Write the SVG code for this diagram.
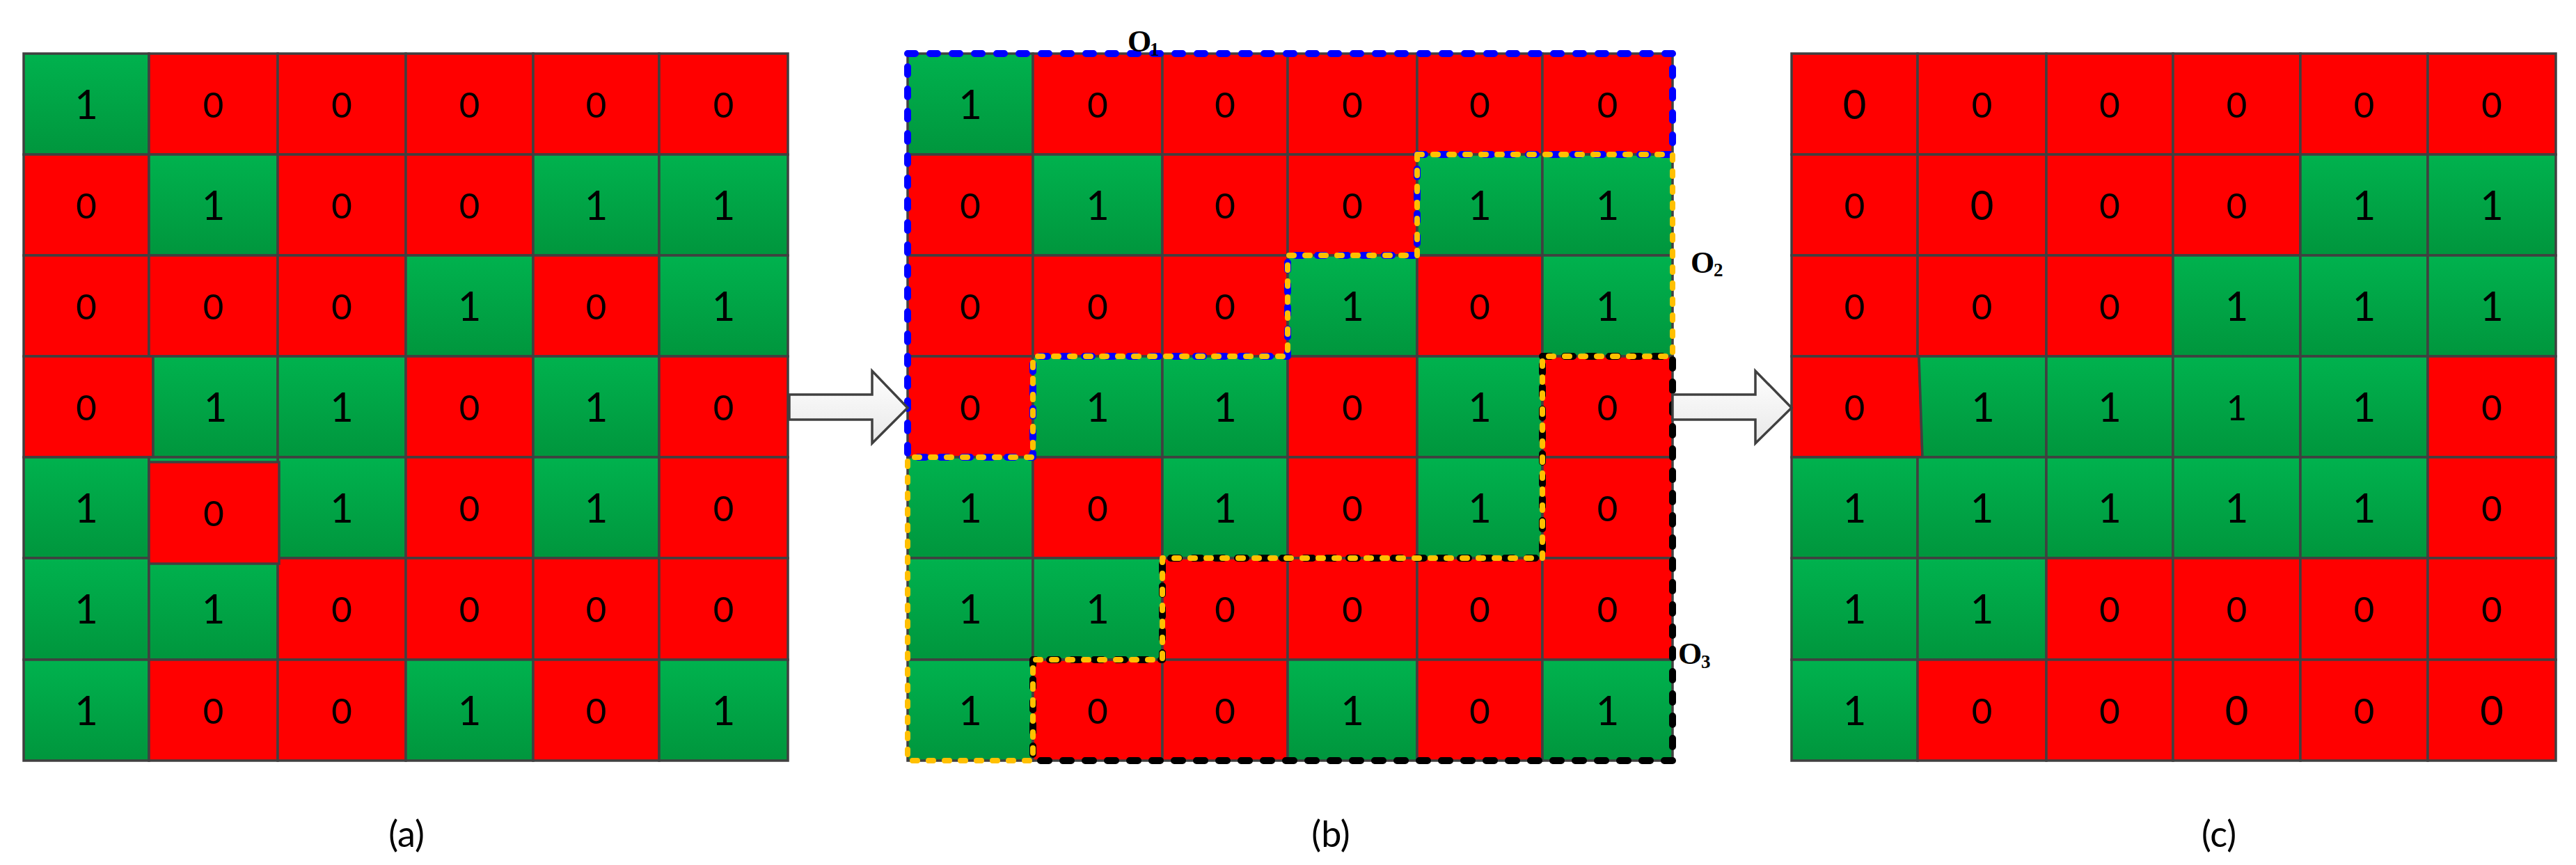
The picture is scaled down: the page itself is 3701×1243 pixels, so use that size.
<svg xmlns="http://www.w3.org/2000/svg" width="3701" height="1243" viewBox="0 0 3701 1243">
<defs>
<linearGradient id="gg" x1="0" y1="0" x2="0" y2="1"><stop offset="0" stop-color="#00B24E"/><stop offset="1" stop-color="#00963D"/></linearGradient>
<linearGradient id="ag" x1="0" y1="0" x2="0" y2="1"><stop offset="0" stop-color="#FFFFFF"/><stop offset="1" stop-color="#E8E8E8"/></linearGradient>
</defs>
<style>
.g{fill:url(#gg);stroke:#404040;stroke-width:3.5}
.r{fill:#FF0000;stroke:#404040;stroke-width:3.5}
text{font-family:Lato,"Open Sans","DejaVu Sans",sans-serif;fill:#000;text-anchor:middle}
.o{font-size:58px}.z{font-size:51px}.zb{font-size:58px}.os{font-size:51px}
.cap{font-size:52px}
.ol{font-family:"Liberation Serif","Times New Roman",serif;font-weight:bold;font-size:44px;text-anchor:start}
.ol tspan{font-size:27px}
.arrow{fill:url(#ag);stroke:#404040;stroke-width:3.5;stroke-linejoin:miter}
.d{fill:none;stroke-linecap:round;stroke-linejoin:round}
.o1{stroke:#0000FF;stroke-width:10;stroke-dasharray:11 21}
.o3{stroke:#000000;stroke-width:10;stroke-dasharray:12 20}
.o2{stroke:#FFC000;stroke-width:8;stroke-dasharray:7 16}
</style>
<rect width="3701" height="1243" fill="#FFFFFF"/>

<g id="grid-a">
<g id="a00"><rect class="g" x="34" y="77" width="180" height="145"/><text class="o" x="124" y="170.5">1</text></g>
<g id="a01"><rect class="r" x="214" y="77" width="185" height="145"/><text class="z" x="306.5" y="168.5">0</text></g>
<g id="a02"><rect class="r" x="399" y="77" width="184" height="145"/><text class="z" x="491" y="168.5">0</text></g>
<g id="a03"><rect class="r" x="583" y="77" width="183" height="145"/><text class="z" x="674.5" y="168.5">0</text></g>
<g id="a04"><rect class="r" x="766" y="77" width="181" height="145"/><text class="z" x="856.5" y="168.5">0</text></g>
<g id="a05"><rect class="r" x="947" y="77" width="185" height="145"/><text class="z" x="1039.5" y="168.5">0</text></g>

<g id="a10"><rect class="r" x="34" y="222" width="180" height="145"/><text class="z" x="124" y="313.5">0</text></g>
<g id="a11"><rect class="g" x="214" y="222" width="185" height="145"/><text class="o" x="306.5" y="315.5">1</text></g>
<g id="a12"><rect class="r" x="399" y="222" width="184" height="145"/><text class="z" x="491" y="313.5">0</text></g>
<g id="a13"><rect class="r" x="583" y="222" width="183" height="145"/><text class="z" x="674.5" y="313.5">0</text></g>
<g id="a14"><rect class="g" x="766" y="222" width="181" height="145"/><text class="o" x="856.5" y="315.5">1</text></g>
<g id="a15"><rect class="g" x="947" y="222" width="185" height="145"/><text class="o" x="1039.5" y="315.5">1</text></g>

<g id="a20"><rect class="r" x="34" y="367" width="180" height="145"/><text class="z" x="124" y="458.5">0</text></g>
<g id="a21"><rect class="r" x="214" y="367" width="185" height="145"/><text class="z" x="306.5" y="458.5">0</text></g>
<g id="a22"><rect class="r" x="399" y="367" width="184" height="145"/><text class="z" x="491" y="458.5">0</text></g>
<g id="a23"><rect class="g" x="583" y="367" width="183" height="145"/><text class="o" x="674.5" y="460.5">1</text></g>
<g id="a24"><rect class="r" x="766" y="367" width="181" height="145"/><text class="z" x="856.5" y="458.5">0</text></g>
<g id="a25"><rect class="g" x="947" y="367" width="185" height="145"/><text class="o" x="1039.5" y="460.5">1</text></g>

<g id="a30"><rect class="r" x="34" y="512" width="186" height="145"/><text class="z" x="124" y="603.5">0</text></g>
<g id="a31"><rect class="g" x="220" y="512" width="179" height="145"/><text class="o" x="309.5" y="605.5">1</text></g>
<g id="a32"><rect class="g" x="399" y="512" width="184" height="145"/><text class="o" x="491" y="605.5">1</text></g>
<g id="a33"><rect class="r" x="583" y="512" width="183" height="145"/><text class="z" x="674.5" y="603.5">0</text></g>
<g id="a34"><rect class="g" x="766" y="512" width="181" height="145"/><text class="o" x="856.5" y="605.5">1</text></g>
<g id="a35"><rect class="r" x="947" y="512" width="185" height="145"/><text class="z" x="1039.5" y="603.5">0</text></g>

<g id="a40"><rect class="g" x="34" y="657" width="180" height="145"/><text class="o" x="124" y="750.5">1</text></g>
<g id="a42"><rect class="g" x="399" y="657" width="184" height="145"/><text class="o" x="491" y="750.5">1</text></g>
<g id="a43"><rect class="r" x="583" y="657" width="183" height="145"/><text class="z" x="674.5" y="748.5">0</text></g>
<g id="a44"><rect class="g" x="766" y="657" width="181" height="145"/><text class="o" x="856.5" y="750.5">1</text></g>
<g id="a45"><rect class="r" x="947" y="657" width="185" height="145"/><text class="z" x="1039.5" y="748.5">0</text></g>

<g id="a50"><rect class="g" x="34" y="802" width="180" height="146"/><text class="o" x="124" y="896">1</text></g>
<g id="a51"><rect class="g" x="214" y="802" width="185" height="146"/><text class="o" x="306.5" y="896">1</text></g>
<g id="a52"><rect class="r" x="399" y="802" width="184" height="146"/><text class="z" x="491" y="894">0</text></g>
<g id="a53"><rect class="r" x="583" y="802" width="183" height="146"/><text class="z" x="674.5" y="894">0</text></g>
<g id="a54"><rect class="r" x="766" y="802" width="181" height="146"/><text class="z" x="856.5" y="894">0</text></g>
<g id="a55"><rect class="r" x="947" y="802" width="185" height="146"/><text class="z" x="1039.5" y="894">0</text></g>

<g id="a60"><rect class="g" x="34" y="948" width="180" height="145"/><text class="o" x="124" y="1041.5">1</text></g>
<g id="a61"><rect class="r" x="214" y="948" width="185" height="145"/><text class="z" x="306.5" y="1039.5">0</text></g>
<g id="a62"><rect class="r" x="399" y="948" width="184" height="145"/><text class="z" x="491" y="1039.5">0</text></g>
<g id="a63"><rect class="g" x="583" y="948" width="183" height="145"/><text class="o" x="674.5" y="1041.5">1</text></g>
<g id="a64"><rect class="r" x="766" y="948" width="181" height="145"/><text class="z" x="856.5" y="1039.5">0</text></g>
<g id="a65"><rect class="g" x="947" y="948" width="185" height="145"/><text class="o" x="1039.5" y="1041.5">1</text></g>

<g id="a41"><rect class="g" x="214" y="657" width="185" height="145"/><rect class="r" x="214" y="664" width="187" height="146"/><text class="z" x="307" y="755.5">0</text></g>
</g>

<g id="grid-b">
<g id="b00"><rect class="g" x="1304" y="77" width="180" height="145"/><text class="o" x="1394" y="170.5">1</text></g>
<g id="b01"><rect class="r" x="1484" y="77" width="186" height="145"/><text class="z" x="1577" y="168.5">0</text></g>
<g id="b02"><rect class="r" x="1670" y="77" width="180" height="145"/><text class="z" x="1760" y="168.5">0</text></g>
<g id="b03"><rect class="r" x="1850" y="77" width="186" height="145"/><text class="z" x="1943" y="168.5">0</text></g>
<g id="b04"><rect class="r" x="2036" y="77" width="180" height="145"/><text class="z" x="2126" y="168.5">0</text></g>
<g id="b05"><rect class="r" x="2216" y="77" width="187" height="145"/><text class="z" x="2309.5" y="168.5">0</text></g>

<g id="b10"><rect class="r" x="1304" y="222" width="180" height="145"/><text class="z" x="1394" y="313.5">0</text></g>
<g id="b11"><rect class="g" x="1484" y="222" width="186" height="145"/><text class="o" x="1577" y="315.5">1</text></g>
<g id="b12"><rect class="r" x="1670" y="222" width="180" height="145"/><text class="z" x="1760" y="313.5">0</text></g>
<g id="b13"><rect class="r" x="1850" y="222" width="186" height="145"/><text class="z" x="1943" y="313.5">0</text></g>
<g id="b14"><rect class="g" x="2036" y="222" width="180" height="145"/><text class="o" x="2126" y="315.5">1</text></g>
<g id="b15"><rect class="g" x="2216" y="222" width="187" height="145"/><text class="o" x="2309.5" y="315.5">1</text></g>

<g id="b20"><rect class="r" x="1304" y="367" width="180" height="145"/><text class="z" x="1394" y="458.5">0</text></g>
<g id="b21"><rect class="r" x="1484" y="367" width="186" height="145"/><text class="z" x="1577" y="458.5">0</text></g>
<g id="b22"><rect class="r" x="1670" y="367" width="180" height="145"/><text class="z" x="1760" y="458.5">0</text></g>
<g id="b23"><rect class="g" x="1850" y="367" width="186" height="145"/><text class="o" x="1943" y="460.5">1</text></g>
<g id="b24"><rect class="r" x="2036" y="367" width="180" height="145"/><text class="z" x="2126" y="458.5">0</text></g>
<g id="b25"><rect class="g" x="2216" y="367" width="187" height="145"/><text class="o" x="2309.5" y="460.5">1</text></g>

<g id="b30"><rect class="r" x="1304" y="512" width="180" height="145"/><text class="z" x="1394" y="603.5">0</text></g>
<g id="b31"><rect class="g" x="1484" y="512" width="186" height="145"/><text class="o" x="1577" y="605.5">1</text></g>
<g id="b32"><rect class="g" x="1670" y="512" width="180" height="145"/><text class="o" x="1760" y="605.5">1</text></g>
<g id="b33"><rect class="r" x="1850" y="512" width="186" height="145"/><text class="z" x="1943" y="603.5">0</text></g>
<g id="b34"><rect class="g" x="2036" y="512" width="180" height="145"/><text class="o" x="2126" y="605.5">1</text></g>
<g id="b35"><rect class="r" x="2216" y="512" width="187" height="145"/><text class="z" x="2309.5" y="603.5">0</text></g>

<g id="b40"><rect class="g" x="1304" y="657" width="180" height="145"/><text class="o" x="1394" y="750.5">1</text></g>
<g id="b41"><rect class="r" x="1484" y="657" width="186" height="145"/><text class="z" x="1577" y="748.5">0</text></g>
<g id="b42"><rect class="g" x="1670" y="657" width="180" height="145"/><text class="o" x="1760" y="750.5">1</text></g>
<g id="b43"><rect class="r" x="1850" y="657" width="186" height="145"/><text class="z" x="1943" y="748.5">0</text></g>
<g id="b44"><rect class="g" x="2036" y="657" width="180" height="145"/><text class="o" x="2126" y="750.5">1</text></g>
<g id="b45"><rect class="r" x="2216" y="657" width="187" height="145"/><text class="z" x="2309.5" y="748.5">0</text></g>

<g id="b50"><rect class="g" x="1304" y="802" width="180" height="146"/><text class="o" x="1394" y="896">1</text></g>
<g id="b51"><rect class="g" x="1484" y="802" width="186" height="146"/><text class="o" x="1577" y="896">1</text></g>
<g id="b52"><rect class="r" x="1670" y="802" width="180" height="146"/><text class="z" x="1760" y="894">0</text></g>
<g id="b53"><rect class="r" x="1850" y="802" width="186" height="146"/><text class="z" x="1943" y="894">0</text></g>
<g id="b54"><rect class="r" x="2036" y="802" width="180" height="146"/><text class="z" x="2126" y="894">0</text></g>
<g id="b55"><rect class="r" x="2216" y="802" width="187" height="146"/><text class="z" x="2309.5" y="894">0</text></g>

<g id="b60"><rect class="g" x="1304" y="948" width="180" height="145"/><text class="o" x="1394" y="1041.5">1</text></g>
<g id="b61"><rect class="r" x="1484" y="948" width="186" height="145"/><text class="z" x="1577" y="1039.5">0</text></g>
<g id="b62"><rect class="r" x="1670" y="948" width="180" height="145"/><text class="z" x="1760" y="1039.5">0</text></g>
<g id="b63"><rect class="g" x="1850" y="948" width="186" height="145"/><text class="o" x="1943" y="1041.5">1</text></g>
<g id="b64"><rect class="r" x="2036" y="948" width="180" height="145"/><text class="z" x="2126" y="1039.5">0</text></g>
<g id="b65"><rect class="g" x="2216" y="948" width="187" height="145"/><text class="o" x="2309.5" y="1041.5">1</text></g>
</g>

<g id="regions">
<g id="region-o1"><path class="d o1" d="M1304,77 H2403 V222 H2036 V367 H1850 V512 H1484 V657 H1304 Z"/><text class="ol" x="1620" y="74">O<tspan x="1652" y="80">1</tspan></text></g>
<g id="region-o3"><path class="d o3" d="M2216,512 H2403 V1093 H1484 V948 H1670 V802 H2216 Z"/><text class="ol" x="2411" y="954">O<tspan x="2444" y="960">3</tspan></text></g>
<g id="region-o2"><path class="d o2" d="M2036,222 H2403 V512 H2216 V802 H1670 V948 H1484 V1093 H1304 V657 H1484 V512 H1850 V367 H2036 Z"/><text class="ol" x="2429" y="392">O<tspan x="2462" y="397">2</tspan></text></g>
</g>

<g id="grid-c">
<g id="c00"><rect class="r" x="2574" y="77" width="181" height="145"/><text class="zb" x="2664.5" y="170.5">0</text></g>
<g id="c01"><rect class="r" x="2755" y="77" width="185" height="145"/><text class="z" x="2847.5" y="168.5">0</text></g>
<g id="c02"><rect class="r" x="2940" y="77" width="182" height="145"/><text class="z" x="3031" y="168.5">0</text></g>
<g id="c03"><rect class="r" x="3122" y="77" width="183" height="145"/><text class="z" x="3213.5" y="168.5">0</text></g>
<g id="c04"><rect class="r" x="3305" y="77" width="183" height="145"/><text class="z" x="3396.5" y="168.5">0</text></g>
<g id="c05"><rect class="r" x="3488" y="77" width="184" height="145"/><text class="z" x="3580" y="168.5">0</text></g>

<g id="c10"><rect class="r" x="2574" y="222" width="181" height="145"/><text class="z" x="2664.5" y="313.5">0</text></g>
<g id="c11"><rect class="r" x="2755" y="222" width="185" height="145"/><text class="zb" x="2847.5" y="315.5">0</text></g>
<g id="c12"><rect class="r" x="2940" y="222" width="182" height="145"/><text class="z" x="3031" y="313.5">0</text></g>
<g id="c13"><rect class="r" x="3122" y="222" width="183" height="145"/><text class="z" x="3213.5" y="313.5">0</text></g>
<g id="c14"><rect class="g" x="3305" y="222" width="183" height="145"/><text class="o" x="3396.5" y="315.5">1</text></g>
<g id="c15"><rect class="g" x="3488" y="222" width="184" height="145"/><text class="o" x="3580" y="315.5">1</text></g>

<g id="c20"><rect class="r" x="2574" y="367" width="181" height="145"/><text class="z" x="2664.5" y="458.5">0</text></g>
<g id="c21"><rect class="r" x="2755" y="367" width="185" height="145"/><text class="z" x="2847.5" y="458.5">0</text></g>
<g id="c22"><rect class="r" x="2940" y="367" width="182" height="145"/><text class="z" x="3031" y="458.5">0</text></g>
<g id="c23"><rect class="g" x="3122" y="367" width="183" height="145"/><text class="o" x="3213.5" y="460.5">1</text></g>
<g id="c24"><rect class="g" x="3305" y="367" width="183" height="145"/><text class="o" x="3396.5" y="460.5">1</text></g>
<g id="c25"><rect class="g" x="3488" y="367" width="184" height="145"/><text class="o" x="3580" y="460.5">1</text></g>

<g id="c30"><polygon class="r" points="2574,512 2757,512 2762,657 2574,657"/><text class="z" x="2664.5" y="603.5">0</text></g>
<g id="c31"><polygon class="g" points="2757,512 2940,512 2940,657 2762,657"/><text class="o" x="2849" y="605.5">1</text></g>
<g id="c32"><rect class="g" x="2940" y="512" width="182" height="145"/><text class="o" x="3031" y="605.5">1</text></g>
<g id="c33"><rect class="g" x="3122" y="512" width="183" height="145"/><text class="os" x="3213.5" y="603.5">1</text></g>
<g id="c34"><rect class="g" x="3305" y="512" width="183" height="145"/><text class="o" x="3396.5" y="605.5">1</text></g>
<g id="c35"><rect class="r" x="3488" y="512" width="184" height="145"/><text class="z" x="3580" y="603.5">0</text></g>

<g id="c40"><rect class="g" x="2574" y="657" width="181" height="145"/><text class="o" x="2664.5" y="750.5">1</text></g>
<g id="c41"><rect class="g" x="2755" y="657" width="185" height="145"/><text class="o" x="2847.5" y="750.5">1</text></g>
<g id="c42"><rect class="g" x="2940" y="657" width="182" height="145"/><text class="o" x="3031" y="750.5">1</text></g>
<g id="c43"><rect class="g" x="3122" y="657" width="183" height="145"/><text class="o" x="3213.5" y="750.5">1</text></g>
<g id="c44"><rect class="g" x="3305" y="657" width="183" height="145"/><text class="o" x="3396.5" y="750.5">1</text></g>
<g id="c45"><rect class="r" x="3488" y="657" width="184" height="145"/><text class="z" x="3580" y="748.5">0</text></g>

<g id="c50"><rect class="g" x="2574" y="802" width="181" height="146"/><text class="o" x="2664.5" y="896">1</text></g>
<g id="c51"><rect class="g" x="2755" y="802" width="185" height="146"/><text class="o" x="2847.5" y="896">1</text></g>
<g id="c52"><rect class="r" x="2940" y="802" width="182" height="146"/><text class="z" x="3031" y="894">0</text></g>
<g id="c53"><rect class="r" x="3122" y="802" width="183" height="146"/><text class="z" x="3213.5" y="894">0</text></g>
<g id="c54"><rect class="r" x="3305" y="802" width="183" height="146"/><text class="z" x="3396.5" y="894">0</text></g>
<g id="c55"><rect class="r" x="3488" y="802" width="184" height="146"/><text class="z" x="3580" y="894">0</text></g>

<g id="c60"><rect class="g" x="2574" y="948" width="181" height="145"/><text class="o" x="2664.5" y="1041.5">1</text></g>
<g id="c61"><rect class="r" x="2755" y="948" width="185" height="145"/><text class="z" x="2847.5" y="1039.5">0</text></g>
<g id="c62"><rect class="r" x="2940" y="948" width="182" height="145"/><text class="z" x="3031" y="1039.5">0</text></g>
<g id="c63"><rect class="r" x="3122" y="948" width="183" height="145"/><text class="zb" x="3213.5" y="1041.5">0</text></g>
<g id="c64"><rect class="r" x="3305" y="948" width="183" height="145"/><text class="z" x="3396.5" y="1039.5">0</text></g>
<g id="c65"><rect class="r" x="3488" y="948" width="184" height="145"/><text class="zb" x="3580" y="1041.5">0</text></g>
</g>

<g id="connectors">
<path id="arrow-ab" class="arrow" d="M1134,567 H1253 V533 L1304,586 L1253,637 V603 H1134 Z"/>
<path id="arrow-bc" class="arrow" d="M2403,567 H2522 V533 L2574,586 L2522,637 V603 H2403 Z"/>
</g>

<g id="captions">
<text class="cap" x="584" y="1217">(a)</text>
<text class="cap" x="1912" y="1217">(b)</text>
<text class="cap" x="3188" y="1217">(c)</text>
</g>
</svg>
